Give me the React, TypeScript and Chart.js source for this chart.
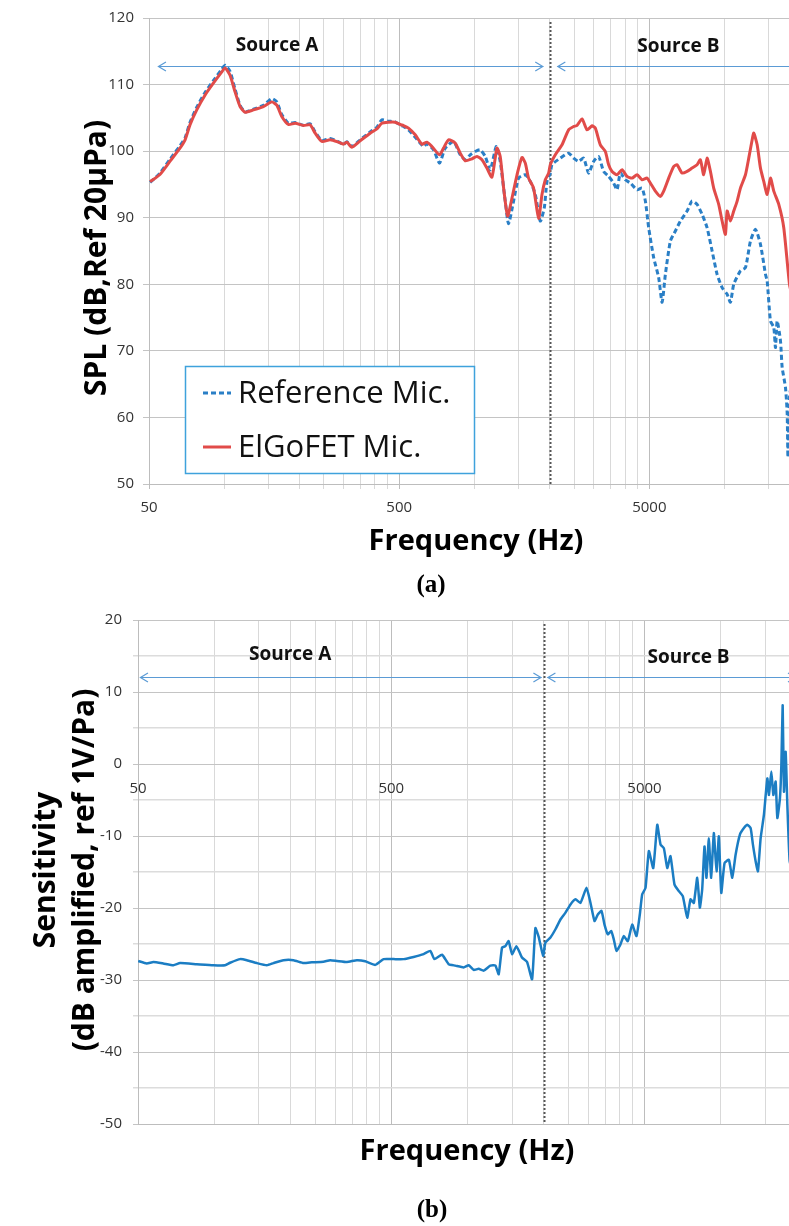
import React, { useEffect, useRef } from 'react';
import { Chart, registerables } from 'chart.js';

Chart.register(...registerables);

const SANS = '"Open Sans", "Noto Sans", "DejaVu Sans", sans-serif';
const SERIF = '"Liberation Serif", "DejaVu Serif", serif';

// ---------- Panel (a): SPL ----------
const refFreq = [50.5, 55.3, 60.7, 66.5, 69.7, 72.9, 77.6, 83.7, 90.4, 97.7, 100.7, 105.4, 110.4, 115.6, 121.1, 130.7, 143.3, 154.8, 162.1, 169.7, 180.4, 191.9, 207.1, 220.3, 230.7, 245.4, 264.8, 285.9, 299.3, 308.9, 323.4, 349.1, 382.8, 407.1, 426.3, 453, 481.9, 504.6, 520.2, 544.7, 579.4, 625.5, 645.4, 685.9, 724.8, 763.9, 824.5, 877, 918.3, 961.6, 1007, 1054, 1104, 1156, 1222, 1267, 1327, 1368, 1433, 1501, 1596, 1671, 1750, 1832, 1901, 1949, 2009, 2041, 2203, 2378, 2490, 2607, 2730, 2859, 2993, 3134, 3282, 3437, 3599, 3713, 3828, 4008, 4197, 4464, 4674, 4819, 4968, 5202, 5447, 5621, 5794, 6067, 6353, 6651, 7074, 7407, 7758, 8123, 8504, 8908, 9326, 9767, 10228, 10544, 10869, 11561, 12106, 12677, 13274, 13900, 14555, 14784, 15241, 15711, 15959, 16210, 16711, 16974, 17498, 17774, 17900, 18155, 18660];
const refSpl = [95.3, 96.7, 98.8, 100.8, 102.0, 104.3, 106.6, 108.8, 110.6, 112.3, 112.9, 112.0, 109.3, 106.9, 105.9, 106.3, 106.9, 107.9, 107.4, 105.5, 104.2, 104.3, 103.9, 104.1, 102.9, 101.6, 101.9, 101.4, 101.0, 101.4, 100.7, 101.7, 102.9, 103.6, 104.7, 104.5, 104.4, 103.9, 103.7, 103.2, 102.1, 100.7, 101.1, 100.2, 98.2, 100.45, 101.45, 99.45, 98.7, 99.45, 99.95, 100.2, 99.2, 97.2, 100.7, 98.45, 92.5, 89.1, 92.5, 95.95, 96.45, 95.45, 93.5, 89.5, 91.5, 95.45, 96.7, 97.97, 98.95, 99.7, 98.95, 98.45, 98.95, 96.7, 98.45, 99.2, 96.95, 96.2, 95.2, 94.2, 96.7, 95.7, 95.2, 94.2, 94.45, 92.5, 88.5, 84.0, 81.0, 77.3, 81.5, 86.5, 88.0, 89.5, 91.0, 92.5, 92.0, 90.5, 88.5, 85.0, 81.5, 79.5, 78.5, 77.3, 80.0, 82.0, 82.5, 86.5, 88.25, 86.0, 81.5, 80.5, 74.5, 73.5, 70.5, 74.5, 71.5, 67.5, 64.5, 60.6, 54, 63, 66];

const elgofetFreq = [50.5, 55.3, 60.7, 66.5, 69.7, 72.9, 77.6, 83.7, 90.4, 97.7, 100.7, 105.4, 110.4, 115.6, 121.1, 130.7, 143.3, 154.8, 162.1, 169.7, 180.4, 191.9, 207.1, 220.3, 230.7, 245.4, 264.8, 285.9, 299.3, 308.9, 323.4, 349.1, 382.8, 407.1, 426.3, 453, 481.9, 504.6, 520.2, 544.7, 579.4, 616.3, 645.4, 675.8, 724.8, 752, 787.4, 837.5, 877, 918.3, 976.7, 1023, 1071, 1121, 1174, 1230, 1267, 1307, 1356, 1412, 1479, 1548, 1596, 1645, 1722, 1804, 1861, 1919, 1978, 2009, 2104, 2238, 2378, 2490, 2569, 2690, 2817, 2950, 3041, 3184, 3334, 3437, 3546, 3713, 3888, 4071, 4263, 4464, 4674, 4894, 5046, 5284, 5533, 5704, 5973, 6254, 6453, 6756, 7074, 7407, 7758, 7997, 8243, 8504, 8770, 9039, 9465, 9767, 10069, 10228, 10544, 10869, 11215, 11561, 12106, 12480, 12877, 13068, 13484, 13900, 14329, 14784, 15241, 15711, 16450, 17225, 18155, 18664];
const elgofetSpl = [95.4, 96.5, 98.5, 100.45, 101.7, 103.95, 106.2, 108.4, 110.2, 111.9, 112.5, 111.4, 108.9, 106.7, 105.85, 106.2, 106.7, 107.4, 106.9, 105.2, 104.0, 104.2, 103.85, 103.95, 102.7, 101.45, 101.7, 101.35, 101.05, 101.35, 100.6, 101.55, 102.7, 103.35, 104.2, 104.35, 104.35, 104.0, 103.85, 103.45, 102.45, 101.05, 101.35, 100.7, 99.45, 100.45, 101.7, 101.2, 99.7, 98.55, 98.85, 99.2, 98.7, 97.45, 96.1, 100.45, 99.2, 94.5, 90.25, 92.95, 96.45, 99.05, 98.2, 95.95, 94.45, 89.9, 93.5, 95.7, 96.7, 97.97, 99.45, 100.95, 103.2, 103.7, 103.85, 104.85, 103.2, 103.8, 103.45, 100.95, 99.95, 97.95, 96.95, 96.45, 97.2, 96.2, 95.95, 96.45, 95.7, 95.95, 95.2, 94.0, 93.2, 94.0, 95.95, 97.7, 97.95, 96.7, 96.95, 97.45, 97.95, 98.7, 96.45, 98.95, 96.95, 94.45, 92.0, 89.5, 87.5, 91.0, 89.5, 91.0, 92.5, 94.45, 96.45, 98.95, 101.7, 102.7, 100.95, 97.45, 95.45, 93.5, 95.95, 94.0, 92.0, 88.5, 80.0, 78.0];

// ---------- Panel (b): Sensitivity ----------
const sensFreq = [50.1, 54.1, 57.5, 62.9, 69.0, 73.3, 85.3, 99.3, 110.4, 115.5, 126.5, 134.5, 147.3, 161.4, 171.3, 187.6, 205.6, 225.2, 243.0, 270.0, 287.0, 305.1, 334.2, 365.9, 394.6, 432.4, 466.4, 510.6, 559.4, 612.5, 671.1, 713.3, 739.7, 793.4, 842.5, 895.4, 965.7, 1011, 1058, 1107, 1159, 1231, 1289, 1328, 1369, 1411, 1453, 1500, 1560, 1617, 1643, 1719, 1799, 1854, 1910, 1989, 2031, 2126, 2225, 2328, 2437, 2551, 2670, 2793, 2951, 3060, 3173, 3270, 3381, 3475, 3581, 3693, 3781, 3875, 4018, 4141, 4295, 4470, 4648, 4790, 4896, 5046, 5201, 5413, 5614, 5785, 5962, 6149, 6331, 6567, 6829, 7082, 7372, 7597, 7829, 8075, 8268, 8447, 8626, 8784, 8970, 9167, 9387, 9624, 9828, 10046, 10352, 10766, 11104, 11444, 11901, 12342, 12730, 13120, 13398, 13730, 14021, 14370, 14807, 15274, 15497, 15839, 16130, 16471, 16728, 17129, 17348, 17557, 17764, 18041, 18322, 18710, 19230];
const sensVal = [-27.35, -27.7, -27.5, -27.7, -27.95, -27.65, -27.8, -27.95, -27.95, -27.6, -27.1, -27.25, -27.65, -27.95, -27.65, -27.25, -27.25, -27.65, -27.55, -27.45, -27.25, -27.35, -27.5, -27.25, -27.4, -27.9, -27.1, -27.1, -27.1, -26.8, -26.4, -25.95, -27.1, -26.5, -27.8, -28.0, -28.25, -27.95, -28.6, -28.45, -28.7, -28.0, -28.0, -29.2, -25.5, -25.3, -24.6, -26.4, -25.3, -26.4, -26.9, -27.5, -29.9, -22.8, -24.0, -26.65, -24.8, -24.1, -22.95, -21.6, -20.65, -19.5, -18.8, -19.3, -17.2, -19.3, -21.8, -20.9, -20.4, -22.3, -23.65, -23.2, -24.35, -25.95, -25.05, -23.9, -24.6, -22.3, -23.9, -20.9, -18.1, -17.2, -12.1, -14.45, -8.45, -11.2, -11.7, -14.45, -12.8, -16.75, -17.65, -18.35, -21.35, -18.8, -19.3, -15.8, -19.95, -17.4, -11.45, -15.8, -10.3, -15.8, -9.6, -14.9, -10.05, -17.9, -13.75, -13.3, -15.8, -12.6, -9.8, -8.9, -8.45, -8.9, -11.2, -13.5, -14.9, -10.3, -7.05, -2.0, -4.3, -1.05, -4.3, -2.45, -7.5, -4.75, -0.15, 8.15, -3.85, 1.7, -5.7, -13.5, -15];

// ---------- Axes ----------
const gridFreqs = [50, 100, 150, 200, 250, 300, 350, 400, 450, 500, 1000, 1500, 2000, 2500, 3000, 3500, 4000, 4500, 5000, 10000, 15000, 20000];
const labelFreqs = [50, 500, 5000];
const boundaryFreq = 2000;

const MAJOR = '#bdbdbd';
const MINOR = '#d9d9d9';
const TICK_COLOR = '#333333';
const ARROW_COLOR = '#5b9bd5';

type TextItem = { text: string; x: number; y: number; font: string; rotate?: boolean };

type DecoCfg = {
  arrowValue: number;
  arrowA: [number, number];
  arrowB: [number, number];
  labelA: [number, number];
  labelB: [number, number];
  texts: TextItem[];
  legend?: { x: number; y: number; w: number; h: number };
  xLabelsAtZero?: boolean;
};

function drawArrow(ctx: CanvasRenderingContext2D, x1: number, x2: number, y: number) {
  ctx.beginPath();
  ctx.moveTo(x1, y);
  ctx.lineTo(x2, y);
  ctx.stroke();
  ctx.beginPath();
  ctx.moveTo(x1 + 8, y - 4.5);
  ctx.lineTo(x1 + 0.5, y);
  ctx.lineTo(x1 + 8, y + 4.5);
  ctx.stroke();
  ctx.beginPath();
  ctx.moveTo(x2 - 8, y - 4.5);
  ctx.lineTo(x2 - 0.5, y);
  ctx.lineTo(x2 - 8, y + 4.5);
  ctx.stroke();
}

function makeDeco(cfg: DecoCfg) {
  return {
    id: 'deco',
    beforeDatasetsDraw(chart: any) {
      const { ctx, chartArea: a, scales } = chart;
      const x = scales.x;
      const y = scales.y;
      ctx.save();
      const bx = Math.round(x.getPixelForValue(boundaryFreq)) + 0.5;
      ctx.strokeStyle = '#555555';
      ctx.lineWidth = 2;
      ctx.setLineDash([2, 2]);
      ctx.beginPath();
      ctx.moveTo(bx, a.top + 4);
      ctx.lineTo(bx, a.bottom);
      ctx.stroke();
      ctx.setLineDash([]);
      ctx.strokeStyle = ARROW_COLOR;
      ctx.lineWidth = 1.2;
      const ay = Math.round(y.getPixelForValue(cfg.arrowValue)) + 0.5;
      drawArrow(ctx, x.getPixelForValue(cfg.arrowA[0]), x.getPixelForValue(cfg.arrowA[1]), ay);
      drawArrow(ctx, x.getPixelForValue(cfg.arrowB[0]), Math.min(x.getPixelForValue(cfg.arrowB[1]), a.right - 1), ay);
      ctx.fillStyle = '#111111';
      ctx.font = `bold 19px ${SANS}`;
      ctx.textAlign = 'center';
      ctx.textBaseline = 'middle';
      ctx.fillText('Source A', x.getPixelForValue(cfg.labelA[0]), y.getPixelForValue(cfg.labelA[1]));
      ctx.fillText('Source B', x.getPixelForValue(cfg.labelB[0]), y.getPixelForValue(cfg.labelB[1]));
      ctx.restore();
    },
    afterDraw(chart: any) {
      const { ctx, scales } = chart;
      ctx.save();
      ctx.textAlign = 'center';
      ctx.textBaseline = 'middle';
      ctx.fillStyle = '#000000';
      for (const t of cfg.texts) {
        ctx.save();
        ctx.font = t.font;
        ctx.translate(t.x, t.y);
        if (t.rotate) ctx.rotate(-Math.PI / 2);
        ctx.fillText(t.text, 0, 0);
        ctx.restore();
      }
      if (cfg.xLabelsAtZero) {
        const zy = scales.y.getPixelForValue(0);
        ctx.font = `15px ${SANS}`;
        ctx.fillStyle = TICK_COLOR;
        for (const f of labelFreqs) {
          ctx.fillText(String(f), scales.x.getPixelForValue(f), zy + 25);
        }
      }
      if (cfg.legend) {
        const L = cfg.legend;
        ctx.fillStyle = '#ffffff';
        ctx.fillRect(L.x, L.y, L.w, L.h);
        ctx.strokeStyle = '#3fa2dc';
        ctx.lineWidth = 1.5;
        ctx.strokeRect(L.x + 0.5, L.y + 0.5, L.w, L.h);
        chart.data.datasets.forEach((ds: any, i: number) => {
          const yy = L.y + 27 + i * 54;
          ctx.strokeStyle = ds.borderColor;
          ctx.lineWidth = 3;
          ctx.setLineDash(ds.borderDash || []);
          ctx.beginPath();
          ctx.moveTo(L.x + 18, yy);
          ctx.lineTo(L.x + 46, yy);
          ctx.stroke();
          ctx.setLineDash([]);
          ctx.fillStyle = '#111111';
          ctx.textAlign = 'left';
          ctx.font = `31px ${SANS}`;
          ctx.fillText(ds.label, L.x + 53, yy + 1);
        });
      }
      ctx.restore();
    },
  };
}

function xAxis(showLabels: boolean, height: number) {
  return {
    type: 'logarithmic',
    min: 50,
    max: 20000,
    afterBuildTicks: (s: any) => {
      s.ticks = gridFreqs.map((v) => ({ value: v }));
    },
    afterFit: (s: any) => {
      s.height = height;
    },
    grid: {
      color: (c: any) => (c.tick && labelFreqs.includes(c.tick.value) ? MAJOR : MINOR),
      lineWidth: 1,
      drawTicks: showLabels,
      tickLength: 5,
    },
    border: { color: MAJOR, width: 1 },
    ticks: {
      display: showLabels,
      autoSkip: false,
      maxRotation: 0,
      minRotation: 0,
      padding: 10,
      color: TICK_COLOR,
      font: { family: SANS, size: 15 },
      callback: (v: any) => (labelFreqs.includes(Number(v)) ? String(v) : ''),
    },
  };
}

function buildTop(): any {
  return {
    type: 'line',
    data: {
      datasets: [
        {
          label: 'Reference Mic.',
          data: refFreq.map((f, i) => ({ x: f, y: refSpl[i] })),
          borderColor: '#2a7fc6',
          borderWidth: 3,
          borderDash: [5, 3],
          pointRadius: 0,
          tension: 0.2,
          order: 1,
        },
        {
          label: 'ElGoFET Mic.',
          data: elgofetFreq.map((f, i) => ({ x: f, y: elgofetSpl[i] })),
          borderColor: '#e14b49',
          borderWidth: 3,
          pointRadius: 0,
          tension: 0.2,
          order: 0,
        },
      ],
    },
    options: {
      animation: false,
      responsive: false,
      devicePixelRatio: 1,
      layout: { padding: { left: 0, right: 0, top: 16, bottom: 0 } },
      plugins: { legend: { display: false }, tooltip: { enabled: false } },
      scales: {
        x: xAxis(true, 116),
        y: {
          type: 'linear',
          min: 50,
          max: 120,
          afterFit: (s: any) => {
            s.width = 149;
          },
          grid: { color: '#c4c4c4', lineWidth: 1, tickLength: 6 },
          border: { color: MAJOR, width: 1 },
          ticks: { stepSize: 10, padding: 9, color: TICK_COLOR, font: { family: SANS, size: 15 } },
        },
      },
    },
    plugins: [
      makeDeco({
        arrowValue: 112.8,
        arrowA: [54.3, 1883],
        arrowB: [2143, 20000],
        labelA: [162.5, 115.9],
        labelB: [6530, 115.7],
        texts: [
          { text: 'SPL (dB,Ref 20μPa)', x: 97, y: 258, font: `bold 30px ${SANS}`, rotate: true },
          { text: 'Frequency (Hz)', x: 476, y: 542, font: `bold 29px ${SANS}` },
          { text: '(a)', x: 431, y: 586, font: `bold 25px ${SERIF}` },
        ],
        legend: { x: 185, y: 366, w: 289, h: 107 },
      }),
    ],
  };
}

function buildBottom(): any {
  return {
    type: 'line',
    data: {
      datasets: [
        {
          label: 'Sensitivity',
          data: sensFreq.map((f, i) => ({ x: f, y: sensVal[i] })),
          borderColor: '#1b7dc3',
          borderWidth: 2.5,
          pointRadius: 0,
          tension: 0.15,
        },
      ],
    },
    options: {
      animation: false,
      responsive: false,
      devicePixelRatio: 1,
      layout: { padding: { left: 0, right: 0, top: 17, bottom: 0 } },
      plugins: { legend: { display: false }, tooltip: { enabled: false } },
      scales: {
        x: xAxis(false, 102),
        y: {
          type: 'linear',
          min: -50,
          max: 20,
          afterFit: (s: any) => {
            s.width = 138;
          },
          grid: {
            color: (c: any) => (c.tick && c.tick.value % 10 === 0 ? '#c4c4c4' : '#dcdcdc'),
            lineWidth: (c: any) => (c.tick && c.tick.value % 10 === 0 ? 1 : 1.5),
            tickLength: 5,
          },
          border: { color: MAJOR, width: 1 },
          ticks: {
            stepSize: 5,
            padding: 11,
            autoSkip: false,
            color: TICK_COLOR,
            font: { family: SANS, size: 15 },
            callback: (v: any) => (Number(v) % 10 === 0 ? String(v) : ''),
          },
        },
      },
    },
    plugins: [
      makeDeco({
        arrowValue: 12.05,
        arrowA: [50.9, 1958],
        arrowB: [2068, 20000],
        labelA: [199.5, 15.2],
        labelB: [7462, 14.8],
        texts: [
          { text: 'Sensitivity', x: 46, y: 270, font: `bold 30px ${SANS}`, rotate: true },
          { text: '(dB amplified, ref 1V/Pa)', x: 85, y: 270, font: `bold 30px ${SANS}`, rotate: true },
          { text: 'Frequency (Hz)', x: 467, y: 552, font: `bold 29px ${SANS}` },
          { text: '(b)', x: 432, y: 611, font: `bold 25px ${SERIF}` },
        ],
        xLabelsAtZero: true,
      }),
    ],
  };
}

function ChartCanvas(props: { width: number; height: number; top: number; build: () => any }) {
  const ref = useRef<HTMLCanvasElement | null>(null);
  useEffect(() => {
    const chart = new Chart(ref.current as HTMLCanvasElement, props.build());
    return () => chart.destroy();
  }, []);
  return (
    <canvas
      ref={ref}
      width={props.width}
      height={props.height}
      style={{ position: 'absolute', left: 0, top: props.top, width: props.width, height: props.height }}
    />
  );
}

export default function App() {
  return (
    <div
      style={{
        position: 'absolute',
        left: 0,
        top: 0,
        width: 789,
        height: 1226,
        overflow: 'hidden',
        background: '#ffffff',
      }}
    >
      <ChartCanvas width={810} height={600} top={0} build={buildTop} />
      <ChartCanvas width={797} height={626} top={600} build={buildBottom} />
    </div>
  );
}
